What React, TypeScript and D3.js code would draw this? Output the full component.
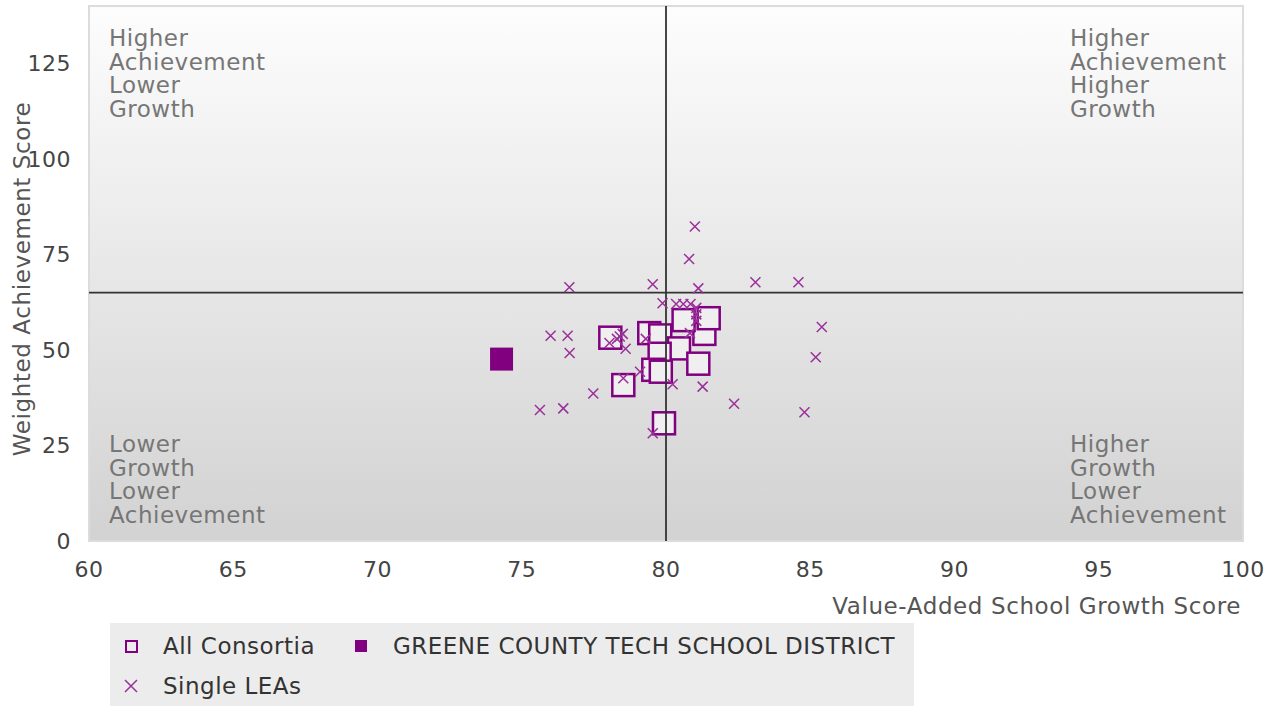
import * as d3 from "d3";

// Value-Added School Growth Score (x) vs Weighted Achievement Score (y)
const consortiaX = [78.07, 79.42, 79.8, 80.45, 79.78, 81.33, 81.12, 80.61, 81.48, 79.56, 79.82, 78.52, 79.93];
const consortiaY = [53.2, 54.4, 53.8, 50.4, 49.0, 54.2, 46.4, 57.8, 58.3, 44.8, 44.3, 40.8, 30.8];

const singleX = [
  81.0, 80.8, 76.65, 79.54, 81.12, 83.1, 84.59, 79.88, 80.35, 80.6, 80.85, 85.4,
  85.19, 76.0, 76.59, 76.66, 78.4, 78.5, 78.3, 78.04, 78.6, 79.3, 80.83, 81.05,
  81.05, 81.05, 79.1, 77.48, 78.52, 80.23, 81.27, 82.36, 75.63, 76.44, 84.8, 79.54,
];
const singleY = [
  82.3, 73.8, 66.4, 67.2, 66.1, 67.7, 67.7, 62.2, 62.0, 62.0, 62.0, 56.0,
  48.1, 53.7, 53.7, 49.2, 53.5, 54.2, 52.9, 51.8, 50.3, 52.9, 54.4, 57.6,
  59.3, 61.0, 44.3, 38.6, 42.6, 41.0, 40.4, 35.9, 34.3, 34.7, 33.7, 28.2,
];

const districtName = "GREENE COUNTY TECH SCHOOL DISTRICT";
const districtX = [74.3];
const districtY = [47.6];

const xTicks = [60, 65, 70, 75, 80, 85, 90, 95, 100];
const yTicks = [0, 25, 50, 75, 100, 125];
const xCut = 80;
const yCut = 65;

const cornerTopLeft = ["Higher", "Achievement", "Lower", "Growth"];
const cornerTopRight = ["Higher", "Achievement", "Higher", "Growth"];
const cornerBottomLeft = ["Lower", "Growth", "Lower", "Achievement"];
const cornerBottomRight = ["Higher", "Growth", "Lower", "Achievement"];

const W = 1272;
const H = 707;
const left = 89;
const right = 1243;
const top = 6;
const bottom = 541;
const purple = "#800080";
const xPurple = "#9a309a";
const font = "'DejaVu Sans', Verdana, sans-serif";

function Cross({ cx, cy, r = 5 }: { cx: number; cy: number; r?: number }) {
  return (
    <path
      d={`M${cx - r},${cy - r}L${cx + r},${cy + r}M${cx - r},${cy + r}L${cx + r},${cy - r}`}
      stroke={xPurple}
      strokeWidth={1.5}
      fill="none"
    />
  );
}

function Corner({ lines, x, y }: { lines: string[]; x: number; y: number }) {
  return (
    <text x={x} y={y} fill="#767676" fontSize={23} letterSpacing={0.5}>
      {lines.map((l, i) => (
        <tspan key={i} x={x} dy={i === 0 ? 0 : 23.5}>
          {l}
        </tspan>
      ))}
    </text>
  );
}

export default function App() {
  const x = d3.scaleLinear().domain([60, 100]).range([left, right]);
  const y = d3.scaleLinear().domain([0, 140]).range([bottom, top]);
  const sq = 22;

  return (
    <div style={{ position: "absolute", left: 0, top: 0 }}>
      <svg width={W} height={H} style={{ display: "block", fontFamily: font }}>
        <defs>
          <linearGradient id="plotBg" x1="0" y1="0" x2="0" y2="1">
            <stop offset="0%" stopColor="#fdfdfd" />
            <stop offset="100%" stopColor="#d2d2d2" />
          </linearGradient>
        </defs>
        <rect width={W} height={H} fill="#fff" />
        <rect
          x={left}
          y={top}
          width={right - left}
          height={bottom - top}
          fill="url(#plotBg)"
          stroke="#dcdcdc"
          strokeWidth={2}
        />

        {/* Quadrant labels */}
        <Corner lines={cornerTopLeft} x={109} y={46} />
        <Corner lines={cornerTopRight} x={1070} y={46} />
        <Corner lines={cornerBottomLeft} x={109} y={452} />
        <Corner lines={cornerBottomRight} x={1070} y={452} />

        {/* Consortia */}
        {consortiaX.map((v, i) => (
          <rect
            key={i}
            x={x(v) - sq / 2}
            y={y(consortiaY[i]) - sq / 2}
            width={sq}
            height={sq}
            fill="#efefef"
            stroke={purple}
            strokeWidth={2.5}
          />
        ))}

        {/* Quadrant lines */}
        <line x1={x(xCut)} x2={x(xCut)} y1={top} y2={bottom} stroke="#333" strokeWidth={1.8} />
        <line x1={left} x2={right} y1={y(yCut)} y2={y(yCut)} stroke="#333" strokeWidth={1.8} />

        {/* Single LEAs */}
        {singleX.map((v, i) => (
          <Cross key={i} cx={x(v)} cy={y(singleY[i])} />
        ))}

        {/* District */}
        {districtX.map((v, i) => (
          <rect
            key={i}
            x={x(v) - 11.5}
            y={y(districtY[i]) - 11.5}
            width={23}
            height={23}
            fill={purple}
          />
        ))}

        {/* Axes */}
        {yTicks.map((t) => (
          <text
            key={t}
            x={71}
            y={y(t)}
            dy="0.36em"
            textAnchor="end"
            fill="#444"
            fontSize={22}
            letterSpacing={0.5}
          >
            {t}
          </text>
        ))}
        {xTicks.map((t) => (
          <text
            key={t}
            x={x(t)}
            y={577}
            textAnchor="middle"
            fill="#444"
            fontSize={22}
            letterSpacing={0.5}
          >
            {t}
          </text>
        ))}
        <text x={1241} y={614} textAnchor="end" fill="#555" fontSize={23} letterSpacing={0.6}>
          Value-Added School Growth Score
        </text>
        <text
          transform="translate(30,279) rotate(-90)"
          textAnchor="middle"
          fill="#555"
          fontSize={23}
          letterSpacing={0.6}
        >
          Weighted Achievement Score
        </text>

        {/* Legend */}
        <rect x={110} y={623} width={804} height={83} fill="#ececec" />
        <rect x={126} y={641} width={11} height={11} fill="none" stroke={purple} strokeWidth={2} />
        <text x={163} y={654} fill="#333" fontSize={23} letterSpacing={0.5}>
          All Consortia
        </text>
        <rect x={355} y={640} width={12} height={12} fill={purple} />
        <text x={393} y={654} fill="#333" fontSize={23} letterSpacing={0.5}>
          {districtName}
        </text>
        <Cross cx={131} cy={686} r={6} />
        <text x={163} y={694} fill="#333" fontSize={23} letterSpacing={0.5}>
          Single LEAs
        </text>
      </svg>
    </div>
  );
}
